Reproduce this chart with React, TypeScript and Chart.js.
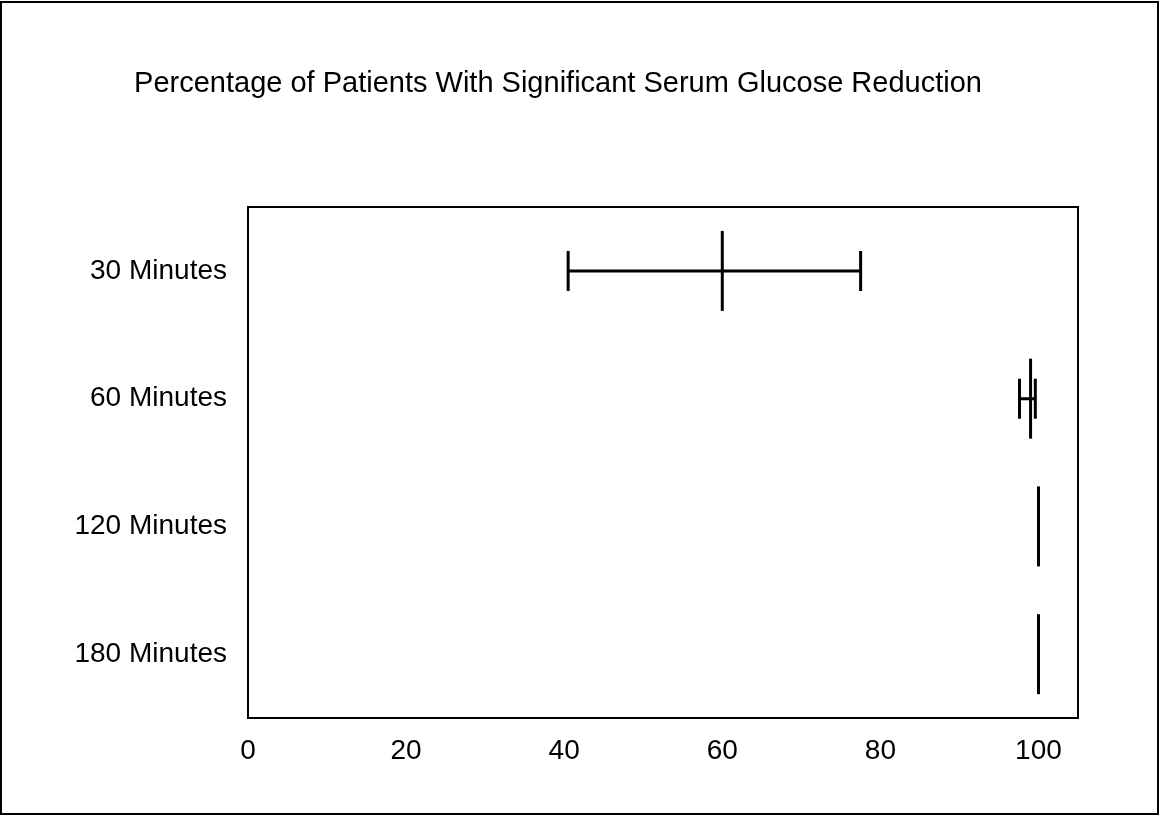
import React, { useEffect, useRef } from "react";
import { Chart, registerables } from "chart.js";

Chart.register(...registerables);

const categories = ["30 Minutes", "60 Minutes", "120 Minutes", "180 Minutes"];
const means = [60, 99, 100, 100];
const lows = [40.5, 97.6, 100, 100];
const highs = [77.5, 99.6, 100, 100];
const xTicks = [0, 20, 40, 60, 80, 100];
const titleText = "Percentage of Patients With Significant Serum Glucose Reduction";

const FONT = "'Liberation Sans', Arial, Helvetica, sans-serif";

const errorBarPlugin = {
  id: "errorBars",
  beforeDraw(chart: any) {
    const ctx = chart.ctx;
    ctx.save();
    ctx.fillStyle = "#ffffff";
    ctx.fillRect(0, 0, chart.width, chart.height);
    ctx.strokeStyle = "#000";
    ctx.lineWidth = 2;
    ctx.strokeRect(1, 2, chart.width - 3, chart.height - 4);
    ctx.fillStyle = "#000";
    ctx.font = `29px ${FONT}`;
    ctx.textAlign = "center";
    ctx.textBaseline = "alphabetic";
    ctx.fillText(titleText, 558, 92);
    ctx.restore();
  },
  afterDatasetsDraw(chart: any) {
    const ctx = chart.ctx;
    const xs = chart.scales.x;
    const ys = chart.scales.y;
    const a = chart.chartArea;
    ctx.save();
    ctx.strokeStyle = "#000";
    ctx.lineWidth = 2;
    ctx.strokeRect(a.left, a.top, a.right - a.left, a.bottom - a.top);
    ctx.lineWidth = 3;
    ctx.lineCap = "butt";
    categories.forEach((c, i) => {
      const y = ys.getPixelForValue(i);
      const xl = xs.getPixelForValue(lows[i]);
      const xh = xs.getPixelForValue(highs[i]);
      if (Math.abs(xh - xl) < 1) return;
      ctx.beginPath();
      ctx.moveTo(xl, y);
      ctx.lineTo(xh, y);
      ctx.moveTo(xl, y - 20);
      ctx.lineTo(xl, y + 20);
      ctx.moveTo(xh, y - 20);
      ctx.lineTo(xh, y + 20);
      ctx.stroke();
    });
    ctx.restore();
  },
};

export default function App() {
  const ref = useRef<HTMLCanvasElement>(null);
  useEffect(() => {
    document.body.style.margin = "0";
    const chart = new Chart(ref.current as HTMLCanvasElement, {
      type: "line",
      data: {
        labels: categories,
        datasets: [
          {
            data: means,
            showLine: false,
            pointStyle: "line",
            pointRotation: 90,
            pointRadius: 40,
            pointBorderWidth: 3,
            pointBorderColor: "#000",
            pointBackgroundColor: "#000",
          } as any,
        ],
      },
      options: {
        indexAxis: "y",
        responsive: false,
        animation: false,
        layout: { padding: { left: 0, right: 82, top: 207, bottom: 0 } },
        plugins: {
          legend: { display: false },
          tooltip: { enabled: false },
          title: { display: false },
        },
        scales: {
          x: {
            type: "linear",
            min: 0,
            max: 105,
            grid: { display: false, drawTicks: false },
            border: { display: false },
            afterBuildTicks: (s: any) => {
              s.ticks = xTicks.map((v) => ({ value: v }));
            },
            afterFit: (s: any) => {
              s.height = 98;
            },
            ticks: {
              color: "#000",
              padding: 16,
              maxRotation: 0,
              font: { family: FONT, size: 28 },
            },
          },
          y: {
            type: "category",
            offset: true,
            grid: { display: false, drawTicks: false },
            border: { display: false },
            afterFit: (s: any) => {
              s.width = 248;
            },
            ticks: {
              color: "#000",
              padding: 21,
              font: { family: FONT, size: 28 },
            },
          },
        },
      } as any,
      plugins: [errorBarPlugin],
    });
    return () => chart.destroy();
  }, []);
  return (
    <div style={{ position: "absolute", left: 0, top: 0, width: 1160, height: 816 }}>
      <canvas ref={ref} width={1160} height={816} />
    </div>
  );
}
